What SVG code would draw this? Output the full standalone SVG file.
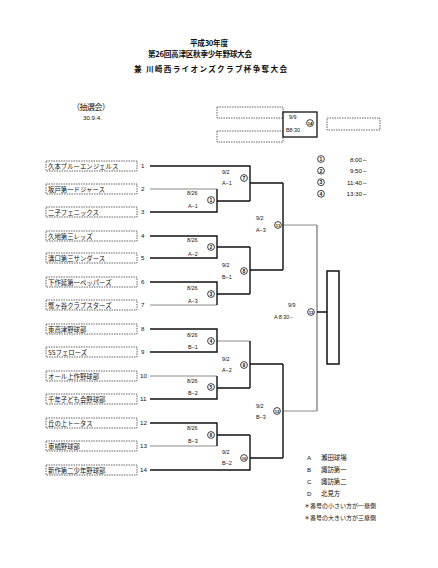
<svg xmlns="http://www.w3.org/2000/svg" width="438" height="568" viewBox="0 0 438 568">
<style>
.t{font-family:"Noto Sans CJK JP","Liberation Sans",sans-serif;fill:#111}
.ttl{font-size:7.6px;font-weight:bold}
.tn{font-size:6.4px}
.n{font-family:"Liberation Sans",sans-serif;font-size:6.2px;fill:#111}
.s{font-family:"Liberation Sans",sans-serif;font-size:5.4px;fill:#111}
.cc{fill:#fff;stroke:#111;stroke-width:0.8}
.cn{font-family:"Liberation Sans",sans-serif;font-size:5px;font-weight:bold;fill:#111;text-anchor:middle}
.cn2{font-family:"Liberation Sans",sans-serif;font-size:4.2px;font-weight:bold;fill:#111;text-anchor:middle}
.box{fill:#fff;stroke:#555;stroke-width:0.9;stroke-dasharray:1.5,1}
.k{fill:none;stroke:#111;stroke-width:1.4}
.g{fill:none;stroke:#8a8a8a;stroke-width:1}
.m{fill:none;stroke:#555;stroke-width:1}
</style>
<rect width="438" height="568" fill="#fff"/>
<g id="title">
<text class="t ttl" x="190" y="46" textLength="38">平成30年度</text>
<text class="t ttl" x="148" y="57" textLength="104">第26回高津区秋季少年野球大会</text>
<text class="t ttl" x="134" y="72" textLength="153">兼 川崎西ライオンズクラブ杯争奪大会</text>
<text class="t" x="72" y="110" font-size="8" textLength="38">（抽選会）</text>
<text class="n" x="83" y="120" font-size="5">30.9.4.</text>
</g>
<g id="final-top">
<rect class="box" x="217" y="107" width="66" height="11"/>
<rect class="box" x="217" y="131" width="66" height="11"/>
<rect class="box" x="327" y="118" width="53" height="12"/>
<rect x="283" y="112" width="34" height="25" fill="#fff" stroke="#111" stroke-width="1.3"/>
<text class="s" x="289" y="119">9/9</text>
<text class="s" x="286" y="132">B8:30</text>
<circle class="cc" cx="310" cy="123" r="3.4"/><text class="cn2" x="310" y="124.5">14</text>
</g>
<g id="times">
<circle class="cc" cx="321" cy="159" r="3.4"/><text class="cn" x="321" y="160.8">1</text>
<circle class="cc" cx="321" cy="170.7" r="3.4"/><text class="cn" x="321" y="172.5">2</text>
<circle class="cc" cx="321" cy="182.3" r="3.4"/><text class="cn" x="321" y="184.1">3</text>
<circle class="cc" cx="321" cy="193.8" r="3.4"/><text class="cn" x="321" y="195.6">4</text>
<text class="n" x="368" y="161.5" text-anchor="end" font-size="6.6">8:00～</text>
<text class="n" x="368" y="173" text-anchor="end" font-size="6.6">9:50～</text>
<text class="n" x="368" y="184.5" text-anchor="end" font-size="6.6">11:40～</text>
<text class="n" x="368" y="196" text-anchor="end" font-size="6.6">13:30～</text>
</g>
<g id="teams">
<g id="team1"><rect class="box" x="46" y="161" width="91" height="10"/><text class="t tn" x="48" y="168.5">久本ブルーエンジェルス</text><text class="n" x="141" y="168.3">1</text></g>
<g id="team2"><rect class="box" x="46" y="184" width="91" height="10"/><text class="t tn" x="48" y="191.5">坂戸第一ドジャース</text><text class="n" x="141" y="191.3">2</text></g>
<g id="team3"><rect class="box" x="46" y="207" width="91" height="10"/><text class="t tn" x="48" y="214.5">二子フェニックス</text><text class="n" x="141" y="214.3">3</text></g>
<g id="team4"><rect class="box" x="46" y="231" width="91" height="10"/><text class="t tn" x="48" y="238.5">久地第三レッズ</text><text class="n" x="141" y="238.3">4</text></g>
<g id="team5"><rect class="box" x="46" y="253" width="91" height="10"/><text class="t tn" x="48" y="260.5">溝口第三サンダース</text><text class="n" x="141" y="260.3">5</text></g>
<g id="team6"><rect class="box" x="46" y="277" width="91" height="10"/><text class="t tn" x="48" y="284.5">下作延第一ペッパーズ</text><text class="n" x="141" y="284.3">6</text></g>
<g id="team7"><rect class="box" x="46" y="300" width="91" height="10"/><text class="t tn" x="48" y="307.5">蟹ヶ谷クラブスターズ</text><text class="n" x="141" y="307.3">7</text></g>
<g id="team8"><rect class="box" x="46" y="324" width="91" height="10"/><text class="t tn" x="48" y="331.5">東高津野球部</text><text class="n" x="141" y="331.3">8</text></g>
<g id="team9"><rect class="box" x="46" y="347" width="91" height="10"/><text class="t tn" x="48" y="354.5">SSフェローズ</text><text class="n" x="141" y="354.3">9</text></g>
<g id="team10"><rect class="box" x="46" y="371" width="91" height="10"/><text class="t tn" x="48" y="378.5">オール上作野球部</text><text class="n" x="140" y="378.3">10</text></g>
<g id="team11"><rect class="box" x="46" y="394" width="91" height="10"/><text class="t tn" x="48" y="401.5">千年子ども会野球部</text><text class="n" x="140" y="401.3">11</text></g>
<g id="team12"><rect class="box" x="46" y="418" width="91" height="10"/><text class="t tn" x="48" y="425.5">丘の上トータス</text><text class="n" x="140" y="425.3">12</text></g>
<g id="team13"><rect class="box" x="46" y="441" width="91" height="10"/><text class="t tn" x="48" y="448.5">東橘野球部</text><text class="n" x="140" y="448.3">13</text></g>
<g id="team14"><rect class="box" x="46" y="465" width="91" height="10"/><text class="t tn" x="48" y="472.5">新作第二少年野球部</text><text class="n" x="140" y="472.3">14</text></g>
</g>
<g id="connectors">
<path class="g" d="M150,189H217M150,305H217M150,376H217M150,446H217M217,341H250M283,225H317M283,411H317"/>
<path class="m" d="M317,225V411"/>
<path class="k" d="M150,166H250V201M217,201H250M250,183H283
M150,212H217V189
M150,236H217V258H150M217,247H250
M150,282H217V305M217,294H250M250,247V294M250,270H283M283,183V270
M150,329H217V352H150M150,399H217V376M217,388H250M250,341V388M250,364H283
M150,423H217V446M217,435H250M150,470H250V435M250,458H283M283,364V458
M317,312H327"/>
</g>
<g id="final">
<rect x="327" y="271" width="12" height="93" fill="#fff" stroke="#111" stroke-width="1.5"/>
</g>
<g id="labels">
<text class="s" x="187" y="195">8/26</text><text class="s" x="188" y="208">A−1</text><circle class="cc" cx="211" cy="200" r="3.4"/><text class="cn" x="211" y="201.8">1</text>
<text class="s" x="187" y="242">8/26</text><text class="s" x="188" y="256">A−2</text><circle class="cc" cx="211" cy="247" r="3.4"/><text class="cn" x="211" y="248.8">2</text>
<text class="s" x="187" y="290">8/26</text><text class="s" x="188" y="303">A−3</text><circle class="cc" cx="211" cy="294" r="3.4"/><text class="cn" x="211" y="295.8">3</text>
<text class="s" x="187" y="337">8/26</text><text class="s" x="188" y="349">B−1</text><circle class="cc" cx="211" cy="341" r="3.4"/><text class="cn" x="211" y="342.8">4</text>
<text class="s" x="187" y="383">8/26</text><text class="s" x="188" y="395">B−2</text><circle class="cc" cx="211" cy="387" r="3.4"/><text class="cn" x="211" y="388.8">5</text>
<text class="s" x="187" y="430">8/26</text><text class="s" x="188" y="443">B−3</text><circle class="cc" cx="211" cy="435" r="3.4"/><text class="cn" x="211" y="436.8">6</text>
<text class="s" x="222" y="174">9/2</text><text class="s" x="222" y="185">A−1</text><circle class="cc" cx="244" cy="178" r="3.4"/><text class="cn" x="244" y="179.8">7</text>
<text class="s" x="222" y="267">9/2</text><text class="s" x="222" y="279">B−1</text><circle class="cc" cx="244" cy="271" r="3.4"/><text class="cn" x="244" y="272.8">8</text>
<text class="s" x="222" y="361">9/2</text><text class="s" x="222" y="372">A−2</text><circle class="cc" cx="244" cy="365" r="3.4"/><text class="cn" x="244" y="366.8">9</text>
<text class="s" x="222" y="454">9/2</text><text class="s" x="222" y="465">B−2</text><circle class="cc" cx="244" cy="458" r="3.4"/><text class="cn2" x="244" y="459.5">10</text>
<text class="s" x="256" y="220">9/2</text><text class="s" x="256" y="232">A−3</text><circle class="cc" cx="278" cy="225" r="3.4"/><text class="cn2" x="278" y="226.5">11</text>
<text class="s" x="256" y="408">9/2</text><text class="s" x="256" y="419">B−3</text><circle class="cc" cx="277" cy="411" r="3.4"/><text class="cn2" x="277" y="412.5">12</text>
<text class="s" x="288" y="307">9/9</text><text class="s" x="274" y="319">A 8:30～</text><circle class="cc" cx="311" cy="312" r="3.4"/><text class="cn2" x="311" y="313.5">13</text>
</g>
<g id="legend">
<text class="n" x="307" y="460">A</text><text class="t tn" x="321" y="460.3">瀬田球場</text>
<text class="n" x="307" y="472">B</text><text class="t tn" x="321" y="472.3">諏訪第一</text>
<text class="n" x="307" y="484">C</text><text class="t tn" x="321" y="484.3">諏訪第二</text>
<text class="n" x="307" y="495.5">D</text><text class="t tn" x="321" y="495.8">北見方</text>
<text class="t" x="304" y="507.5" font-size="6">＊番号の小さい方が一塁側</text>
<text class="t" x="304" y="519.5" font-size="6">＊番号の大きい方が三塁側</text>
</g>
</svg>
